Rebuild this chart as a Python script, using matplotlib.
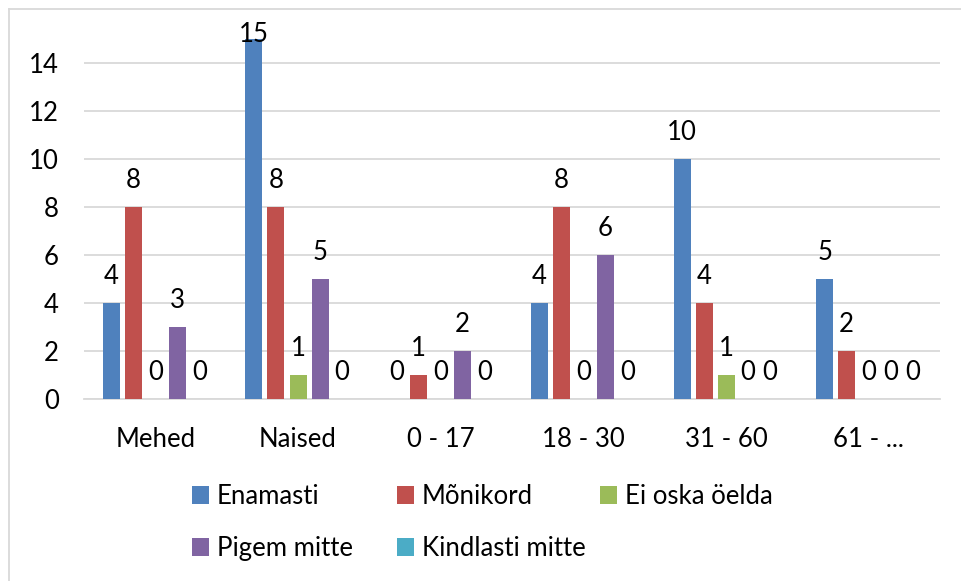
import matplotlib
matplotlib.use("Agg")
import matplotlib.pyplot as plt
from matplotlib.patches import Patch
from matplotlib.lines import Line2D
import numpy as np

categories = ["Mehed", "Naised", "0 - 17", "18 - 30", "31 - 60", "61 - ..."]
series_names = ["Enamasti", "Mõnikord", "Ei oska öelda", "Pigem mitte", "Kindlasti mitte"]
enamasti = [4, 15, 0, 4, 10, 5]
monikord = [8, 8, 1, 8, 4, 2]
ei_oska = [0, 1, 0, 0, 1, 0]
pigem_mitte = [3, 5, 2, 6, 0, 0]
kindlasti_mitte = [0, 0, 0, 0, 0, 0]
yticks = [0, 2, 4, 6, 8, 10, 12, 14]

series = [enamasti, monikord, ei_oska, pigem_mitte, kindlasti_mitte]
colors = ["#4F81BD", "#C0504D", "#9BBB59", "#8064A2", "#4BACC6"]

plt.rcParams['font.family'] = ['Lato', 'DejaVu Sans']
W, H = 961, 581
DPI = 100
fig = plt.figure(figsize=(W / DPI, H / DPI), dpi=DPI)

left, right, bottom, top = 84, 940, 399, 39
ax = fig.add_axes([left / W, 1 - bottom / H, (right - left) / W, (bottom - top) / H])

x = np.arange(len(categories))
pitch = 22 / ((right - left) / 6)
width = 17 / ((right - left) / 6)
fs = 18.5

ax.set_xlim(-0.5, len(categories) - 0.5)
ax.set_ylim(0, 15)

label_gap_px = 19      # gap between bar top and label baseline
min_baseline_px = 42   # label baseline can't go higher than this (from top), like Excel

for k, (vals, col) in enumerate(zip(series, colors)):
    pos = x + (k - 2) * pitch
    ax.bar(pos, vals, width=width, color=col, zorder=3)
    for p, v in zip(pos, vals):
        bar_top_from_top = H - ax.transData.transform((p, v))[1]
        baseline = max(bar_top_from_top - label_gap_px, min_baseline_px)
        off_pt = (bar_top_from_top - baseline) * 72 / DPI
        ax.annotate(str(v), (p, v), xytext=(0, off_pt), textcoords='offset points',
                    ha='center', va='baseline', fontsize=fs, color='black',
                    annotation_clip=False, zorder=4)

ax.set_yticks(yticks)
ax.set_yticklabels([str(t) for t in yticks], fontsize=fs)
ax.set_xticks(x)
ax.set_xticklabels(categories, fontsize=fs)
ax.tick_params(axis='both', length=0)
ax.tick_params(axis='y', pad=18)
ax.tick_params(axis='x', pad=20)
ax.yaxis.grid(True, color='#D9D9D9', linewidth=1.3, zorder=0)
for s in ['top', 'right', 'left']:
    ax.spines[s].set_visible(False)
ax.spines['bottom'].set_color('#D9D9D9')
ax.spines['bottom'].set_linewidth(1.3)
ax.set_axisbelow(True)

# outer chart border (top and left visible)
fig.add_artist(Line2D([9 / W, 1], [1 - 9 / H, 1 - 9 / H], color='#D9D9D9', linewidth=1.3,
                      transform=fig.transFigure))
fig.add_artist(Line2D([9 / W, 9 / W], [0, 1 - 9 / H], color='#D9D9D9', linewidth=1.3,
                      transform=fig.transFigure))

# legend: three columns placed like Excel
cols = [[0, 3], [1, 4], [2]]
col_x = [192, 397, 600]
for cx, idxs in zip(col_x, cols):
    handles = [Patch(facecolor=colors[i], edgecolor='none') for i in idxs]
    labels = [series_names[i] for i in idxs]
    fig.legend(handles, labels, loc='upper left', bbox_to_anchor=(cx / W, 1 - 484 / H),
               frameon=False, fontsize=fs, handlelength=0.66, handleheight=0.66,
               handletextpad=0.3, labelspacing=1.05, borderpad=0, borderaxespad=0)

fig.savefig("out.png", dpi=DPI)
